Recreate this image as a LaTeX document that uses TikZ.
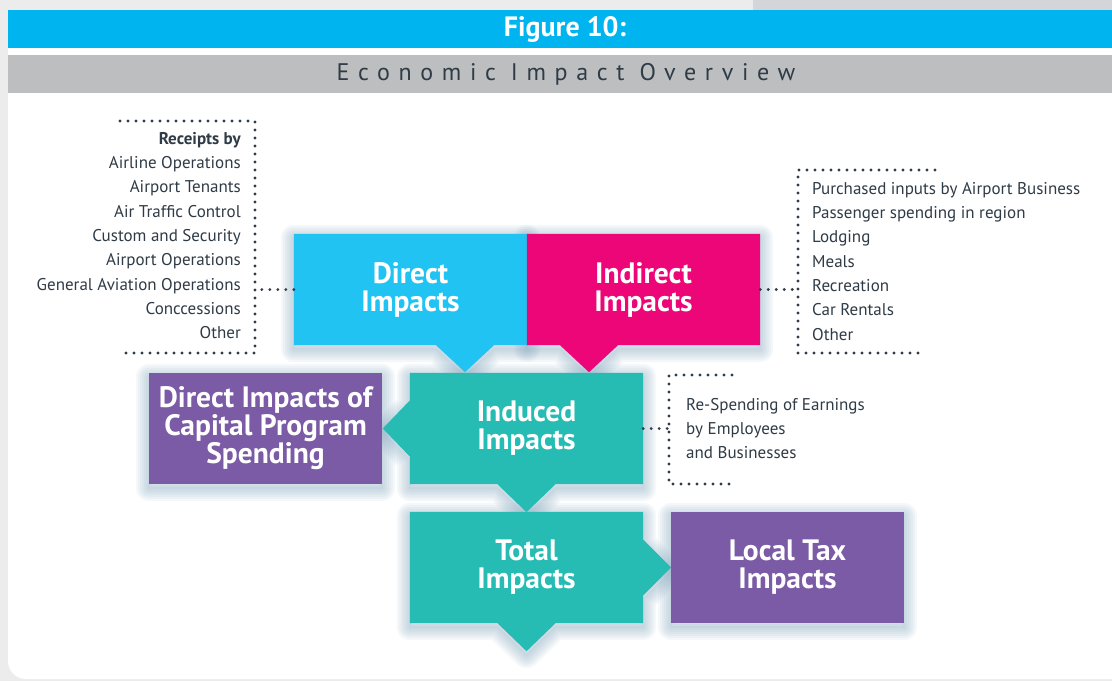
\documentclass[tikz,border=0pt]{standalone}
\usepackage{fontspec}
\setmainfont{PT Sans}
\usetikzlibrary{positioning}

\definecolor{pagegray}{HTML}{ECECEC}
\definecolor{tabgray}{HTML}{D4D5D9}
\definecolor{figblue}{HTML}{00B5EF}
\definecolor{bargray}{HTML}{BCBEC0}
\definecolor{ink}{HTML}{2F3B46}
\definecolor{directblue}{HTML}{21C3F3}
\definecolor{indirectred}{HTML}{EC0677}
\definecolor{inducedteal}{HTML}{26BCB4}
\definecolor{capitalpurple}{HTML}{7B5AA6}
\definecolor{hazeblue}{HTML}{7FA3BC}

\pgfdeclarelayer{back}
\pgfdeclarelayer{shade}
\pgfdeclarelayer{fills}
\pgfsetlayers{back,shade,fills,main}

\tikzset{
    impact/.style = {minimum width = 233pt, minimum height = 111pt, inner sep = 0pt,
        align = center, text = white, font = \bfseries\fontsize{29.5}{28}\selectfont},
    dots/.style = {draw = ink, line width = 3.1pt, line cap = round,
        dash pattern = on 0pt off 8pt},
    list/.style = {inner sep = 0pt, text = ink, font = \fontsize{17}{24.3}\selectfont},
    haze/.style = {draw = hazeblue, opacity = .075, line join = round},
}

% soft shadow on one layer, flat fill on the next
\newcommand\impactshape[2]{%
    \begin{pgfonlayer}{shade}
        \begin{scope}[transform canvas = {yshift = -4pt}]
            \foreach \w in {26, 22, ..., 2}
                \draw[haze, line width = \w pt] #2;
        \end{scope}
    \end{pgfonlayer}
    \begin{pgfonlayer}{fills}
        \fill[#1] #2;
    \end{pgfonlayer}%
}

\begin{document}
\begin{tikzpicture}[x = 1pt, y = -1pt]
    \useasboundingbox (0, 0) rectangle (1112, 681);
    \begin{pgfonlayer}{back}
        \fill[pagegray] (0, 0) rectangle (1112, 681);
        \fill[tabgray] (753, 0) rectangle (1112, 10);
        \fill[white, rounded corners = 18pt] (8, 10) rectangle (1130, 679);
        \fill[figblue] (8, 10) rectangle (1112, 48);
        \fill[bargray] (8, 55) rectangle (1112, 93);
    \end{pgfonlayer}

    \node[text = white, font = \bfseries\fontsize{28}{28}\selectfont] (figno) at (565, 29) {Figure 10:};
    \node[text = ink, font = \fontsize{24}{24}\selectfont\addfontfeature{LetterSpace = 36}] (overview)
        at (566, 74) {Economic Impact Overview};

    \path
        (410.5, 289.5) node[impact] (direct) {Direct\\Impacts}
        (643.5, 289.5) node[impact] (indirect) {Indirect\\Impacts}
        (526.5, 428.5) node[impact] (induced) {Induced\\Impacts}
        (265.5, 428.5) node[impact] (capital) {Direct Impacts of\\Capital Program\\Spending}
        (526.5, 567.5) node[impact] (total) {Total\\Impacts}
        (787.5, 567.5) node[impact] (localtax) {Local Tax\\Impacts}
    ;

    \impactshape{directblue}{(direct.north west) -- (direct.north east) -- (direct.south east)
        -- ([xshift = 83.5pt]direct.south) -- ([xshift = 54.5pt, yshift = -27pt]direct.south)
        -- ([xshift = 25.5pt]direct.south) -- (direct.south west) -- cycle}
    \impactshape{indirectred}{(indirect.north west) -- (indirect.north east) -- (indirect.south east)
        -- ([xshift = -25.5pt]indirect.south) -- ([xshift = -54.5pt, yshift = -27pt]indirect.south)
        -- ([xshift = -83.5pt]indirect.south) -- (indirect.south west) -- cycle}
    \impactshape{inducedteal}{(induced.north west) -- (induced.north east) -- (induced.south east)
        -- ([xshift = 29pt]induced.south) -- ([yshift = -28pt]induced.south)
        -- ([xshift = -29pt]induced.south) -- (induced.south west)
        -- ([yshift = -28pt]induced.west) -- ([xshift = -27pt]induced.west)
        -- ([yshift = 28pt]induced.west) -- cycle}
    \impactshape{inducedteal}{(total.north west) -- (total.north east)
        -- ([yshift = 28pt]total.east) -- ([xshift = 28pt]total.east)
        -- ([yshift = -28pt]total.east) -- (total.south east)
        -- ([xshift = 29pt]total.south) -- ([yshift = -28pt]total.south)
        -- ([xshift = -29pt]total.south) -- (total.south west) -- cycle}
    \impactshape{capitalpurple}{(capital.north west) rectangle (capital.south east)}
    \impactshape{capitalpurple}{(localtax.north west) rectangle (localtax.south east)}

    % lists hanging off the boxes
    \node[list, align = right, anchor = north east] (receipts) at (241, 132)
        {\textbf{Receipts by}\\Airline Operations\\Airport Tenants\\Air Traffic Control\\
         Custom and Security\\Airport Operations\\General Aviation Operations\\
         Conccessions\\Other};
    \node[list, align = left, anchor = north west] (purchases) at (812, 182)
        {Purchased inputs by Airport Business\\Passenger spending in region\\Lodging\\
         Meals\\Recreation\\Car Rentals\\Other};
    \node[list, align = left, anchor = north west] (respending) at (686, 398)
        {Re-Spending of Earnings\\by Employees\\and Businesses};

    \coordinate (lhook) at (255, 289.5);
    \coordinate (rhook) at (798, 289.5);
    \coordinate (ihook) at (669, 428.5);
    \draw[dots]
        (120, 121) -- (255, 121) -- (255, 353) -- (120, 353)
        (935, 170) -- (798, 170) -- (798, 353) -- (925, 353)
        (732, 375) -- (669, 375) -- (669, 484) -- (732, 484)
    ;
    \draw[dots] (direct.west) -- (lhook);
    \draw[dots] (indirect.east) -- (rhook);
    \draw[dots] (induced.east) -- (ihook);
\end{tikzpicture}
\end{document}
